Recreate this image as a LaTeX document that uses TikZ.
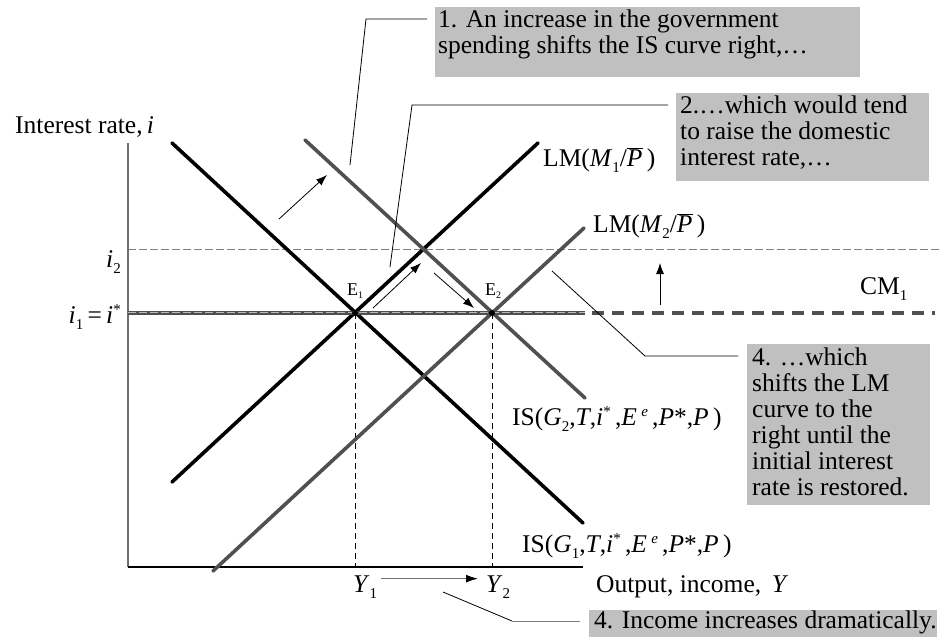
\documentclass[tikz,border=0pt]{standalone}
\usepackage{fontspec}
\setmainfont{Liberation Serif}
\usetikzlibrary{arrows.meta}
\definecolor{curvegray}{HTML}{505050}
\definecolor{boxgray}{HTML}{C0C0C0}
\definecolor{axisgray}{HTML}{707070}
\newcommand{\Pbr}{$\overline{\hbox{\itshape P}}$}
\newcommand{\iv}[1]{\textit{#1}}
\newcommand{\sbs}[1]{\raisebox{-6pt}{\fontsize{15}{15}\selectfont #1}}
\newcommand{\sps}[1]{\raisebox{9pt}{\fontsize{15}{15}\selectfont #1}}
\newcommand{\ssbs}[1]{\raisebox{-3pt}{\fontsize{10}{10}\selectfont #1}}
\begin{document}
\begin{tikzpicture}[x=1pt,y=-1pt,
  thickblack/.style={line width=3.6pt, black, line cap=round},
  thickgray/.style={line width=3.6pt, curvegray, line cap=round},
  thinlead/.style={line width=0.8pt, black},
  dashthin/.style={line width=1pt, gray, dash pattern=on 8pt off 3pt},
  vdash/.style={line width=1pt, black, dash pattern=on 6pt off 4pt},
  boxn/.style={fill=boxgray, inner sep=0pt, anchor=north west},
  lbl/.style={font=\fontsize{25.5}{26}\selectfont, inner sep=0pt},
  smalllbl/.style={font=\fontsize{18}{18}\selectfont, inner sep=0pt},
  arr/.style={-{Latex[length=11pt,width=8pt]}, line width=0.8pt, black}]
\useasboundingbox (0,0) rectangle (940,637);

% callout boxes
\node[boxn, minimum width=425pt, minimum height=70pt] (box1) at (435,7) {};
\node[boxn, minimum width=253pt, minimum height=88pt] (box2) at (676,93) {};
\node[boxn, minimum width=183pt, minimum height=161pt] (box3) at (747,344) {};
\node[boxn, minimum width=348pt, minimum height=30pt] (box4) at (589,610) {};

\node[lbl, anchor=north west, align=left] (t1) at (438,10) {1. An increase in the government\\spending shifts the IS curve right,…};
\node[lbl, anchor=north west, align=left] (t2) at (680,96) {2.…which would tend\\to raise the domestic\\interest rate,…};
\node[lbl, anchor=north west, align=left] (t3) at (752,348) {4. …which\\shifts the LM\\curve to the\\right until the\\initial interest\\rate is restored.};
\node[lbl, anchor=base west] (t4) at (594,628) {4. Income increases dramatically.};

% dashed guide lines
\coordinate (i2a) at (128,249);
\coordinate (i2b) at (940,249);
\draw[dashthin] (i2a) -- (i2b);

% axes
\coordinate (origin) at (128,567);
\coordinate (ytop) at (128,143);
\coordinate (xend) at (583,567);
\draw[line width=1.3pt, axisgray] (origin) -- (ytop);
\draw[line width=1.3pt, black] (origin) -- (xend);

% equilibrium points
\coordinate (E1) at (355,313);
\coordinate (E2) at (492,313);
\coordinate (Y1) at (355,567);
\coordinate (Y2) at (492,567);
\draw[vdash] (E1) -- (Y1);
\draw[vdash] (E2) -- (Y2);

% curves
\coordinate (is1a) at (172,143); \coordinate (is1b) at (583,523);
\coordinate (is2a) at (305,140); \coordinate (is2b) at (585,398);
\coordinate (lm1a) at (172,482); \coordinate (lm1b) at (538,143);
\coordinate (lm2a) at (213,571); \coordinate (lm2b) at (584,228);
\draw[thickblack] (is1a) -- (is1b);
\draw[thickblack] (lm1a) -- (lm1b);
\draw[thickgray] (is2a) -- (is2b);
\draw[thickgray] (lm2a) -- (lm2b);

% CM line
\coordinate (cma) at (128,313); \coordinate (cmb) at (585,313);
\coordinate (cmc) at (592,313); \coordinate (cmd) at (935,313);
\draw[line width=3.6pt, curvegray] (cma) -- (cmb);
\draw[line width=3.6pt, curvegray, dash pattern=on 12pt off 8pt] (cmc) -- (cmd);
\draw[line width=0.6pt, gray!55, dash pattern=on 8pt off 3pt] ([yshift=1pt]cma) -- ([yshift=1pt]cmb);

\fill[black] (E1) circle (3pt);
\fill[black] (E2) circle (3pt);

% shift arrows
\coordinate (sa1) at (279,219); \coordinate (sa2) at (327,175);
\draw[arr] (sa1) -- (sa2);
\coordinate (la1) at (373,308); \coordinate (la2) at (421,263);
\draw[arr] (la1) -- (la2);
\coordinate (da1) at (434,273); \coordinate (da2) at (474,308);
\draw[arr] (da1) -- (da2);
\coordinate (ua1) at (660,305); \coordinate (ua2) at (660,263);
\draw[arr] (ua1) -- (ua2);

% labels
\node[lbl, anchor=base west] (ylab) at (15,133) {Interest rate,\,\iv{i}};
\node[lbl, anchor=base east] (i2lab) at (121,267) {\iv{i}\sbs{2}};
\node[lbl, anchor=base east] (i1lab) at (121,323) {\iv{i}\sbs{1}\,=\,\iv{i}\sps{*}};
\node[smalllbl, anchor=base] (e1lab) at (355,295) {E\ssbs{1}};
\node[smalllbl, anchor=base] (e2lab) at (493,295) {E\ssbs{2}};
\node[lbl, anchor=base west] (lm1lab) at (543,166) {LM(\iv{M}\sbs{1}/\Pbr\,)};
\node[lbl, anchor=base west] (lm2lab) at (593,232) {LM(\iv{M}\sbs{2}/\Pbr\,)};
\node[lbl, anchor=base west] (cmlab) at (860,294) {CM\sbs{1}};
\node[lbl, anchor=base west] (is2lab) at (512,425) {IS(\iv{G}\sbs{2},\iv{T},\iv{i}\sps{*}\,,\iv{E}\,\sps{\iv{e}}\,,\iv{P}*,\iv{P}\,)};
\node[lbl, anchor=base west] (is1lab) at (522,552) {IS(\iv{G}\sbs{1},\iv{T},\iv{i}\sps{*}\,,\iv{E}\,\sps{\iv{e}}\,,\iv{P}*,\iv{P}\,)};
\node[lbl, anchor=base west] (y1lab) at (353,592) {\iv{Y}\sbs{1}};
\node[lbl, anchor=base west] (y2lab) at (486,592) {\iv{Y}\sbs{2}};
\node[lbl, anchor=base west] (xlab) at (596,592) {Output, income,\, \iv{Y}};

\draw[line width=1.2pt, axisgray, -{Latex[length=12pt,width=8pt,fill=black,color=black]}] (y1lab.east) ++(4,-8) coordinate (ya) -- ([xshift=-8pt]y2lab.west |- ya);

% leaders
\coordinate (l1b) at (366,19); \coordinate (l1c) at (350,165);
\draw[thinlead, shorten <=8pt] ([yshift=-12pt]box1.north west) -- (l1b) -- (l1c);
\coordinate (l2b) at (412,105); \coordinate (l2c) at (390,267);
\draw[thinlead, shorten <=8pt] ([yshift=-12pt]box2.north west) -- (l2b) -- (l2c);
\coordinate (l3b) at (645,356); \coordinate (l3c) at (552,271);
\draw[thinlead, shorten <=9pt] ([yshift=-12pt]box3.north west) -- (l3b) -- (l3c);
\coordinate (l4b) at (512,621); \coordinate (l4c) at (443,592);
\draw[line width=1pt, gray, shorten <=9pt] ([yshift=-11pt]box4.north west) -- (l4b);
\draw[thinlead] (l4b) -- (l4c);
\end{tikzpicture}
\end{document}
